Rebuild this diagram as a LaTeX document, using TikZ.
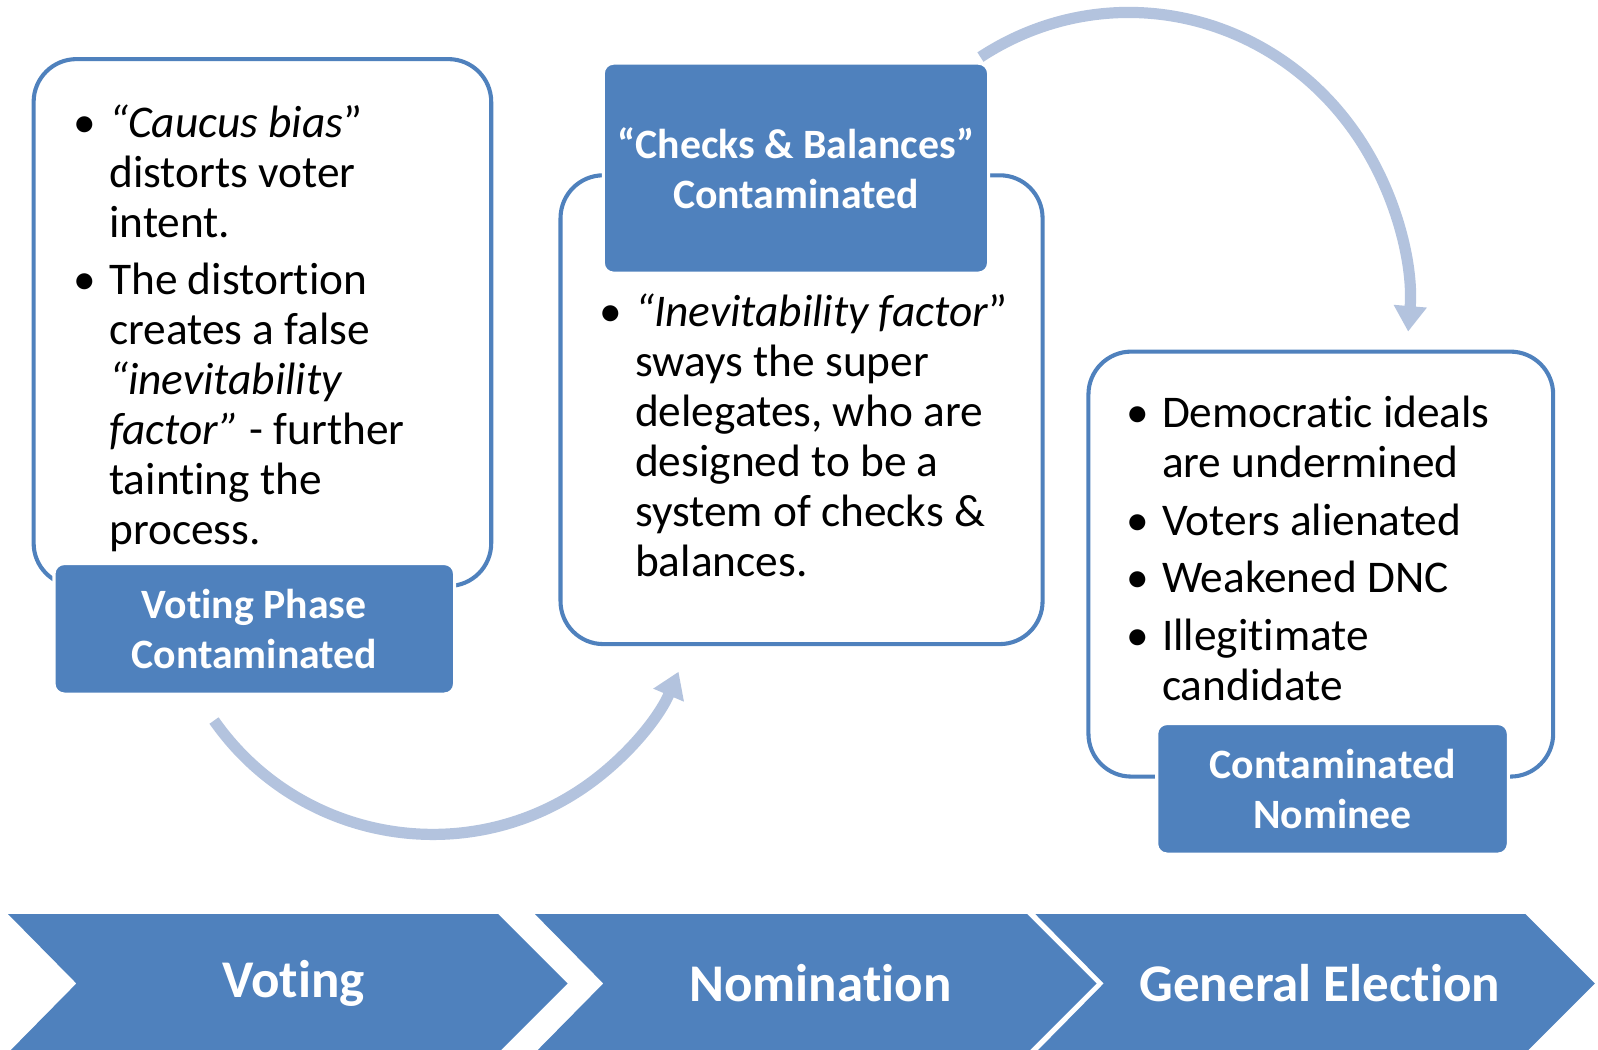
\documentclass[tikz,border=0pt]{standalone}
\usepackage{fontspec}
\setmainfont{Carlito}[Ligatures=NoCommon]
\usetikzlibrary{arrows.meta}
\definecolor{officeblue}{HTML}{4F81BD}
\definecolor{arcblue}{HTML}{B3C3DE}
\tikzstyle{panel}=[rounded corners=42pt, draw=officeblue, line width=4pt, fill=white, inner sep=0]
\tikzstyle{tag}=[rounded corners=10pt, draw=white, line width=3pt, fill=officeblue, text=white, align=center, inner sep=0, font=\fontsize{41}{49}\selectfont\bfseries]
\tikzstyle{body}=[anchor=north west, inner sep=0, align=left, text width=430pt, font=\fontsize{44.5}{49}\selectfont]
\tikzstyle{stage}=[fill=officeblue]
\tikzstyle{stagetext}=[text=white, font=\fontsize{52}{60}\selectfont\bfseries]
\tikzstyle{flow}=[draw=arcblue, line width=11pt, -{Triangle[width=31pt, length=25pt]}]
\newcommand{\itm}[1]{\par\leftskip=25pt\spaceskip=0pt\xspaceskip=0pt\noindent\llap{\textbullet\hspace{13pt}}#1\par}

\begin{document}
\begin{tikzpicture}[x=1pt, y=-1pt]
\useasboundingbox (0,0) rectangle (1568,1030);

% bent arrows between the phases
\coordinate (a1) at (210,707);
\coordinate (a2) at (962,56);
\draw [flow] (a1) arc [start angle=145, end angle=23, radius=262];
\draw [flow] (a2) arc [start angle=-122, end angle=5, x radius=275, y radius=288];

% white panels
\node [panel, minimum width=449pt, minimum height=517pt] (p1) at (257.5,316.5) {};
\node [panel, minimum width=473pt, minimum height=460pt] (p2) at (786.5,402) {};
\node [panel, minimum width=456pt, minimum height=417pt] (p3) at (1296,553.5) {};

% blue tags
\node [tag, minimum width=393pt, minimum height=128pt] (g1) at (249.5,617) {Voting Phase\\Contaminated};
\node [tag, minimum width=378pt, minimum height=206pt] (g2) at (781,165) {“Checks \& Balances”\\Contaminated};
\node [tag, minimum width=345pt, minimum height=128pt] (g3) at (1307.5,774) {Contaminated\\Nominee};

% bullet texts
\node [body] (t1) at (82,86) {\itm{\textit{“Caucus bias}”\\distorts voter\\intent.}\vspace{7pt}\itm{The distortion\\creates a false\\\textit{“inevitability\\factor”} - further\\tainting the\\process.}};
\node [body] (t2) at (598,271) {\itm{\textit{“Inevitability factor}”\\sways the super\\delegates, who are\\designed to be a\\system of checks \&\\balances.}};
\node [body] (t3) at (1115,370) {\itm{Democratic ideals\\are undermined}\vspace{8pt}\itm{Voters alienated}\vspace{7pt}\itm{Weakened DNC}\vspace{8pt}\itm{Illegitimate\\candidate}};

% phase chevrons
\fill [stage] (8,897) -- (489,897) -- (557,965) -- (489,1033) -- (8,1033) -- (75,965) -- cycle;
\fill [stage] (525,897) -- (1008,897) -- (1076,965) -- (1008,1033) -- (525,1033) -- (592,965) -- cycle;
\fill [stage] (1016,897) -- (1497,897) -- (1565,965) -- (1497,1033) -- (1016,1033) -- (1083,965) -- cycle;
\node [stagetext] (c1) at (288,965) {Voting};
\node [stagetext] (c2) at (805,965) {Nomination};
\node [stagetext] (c3) at (1295,965) {General Election};

\end{tikzpicture}
\end{document}
